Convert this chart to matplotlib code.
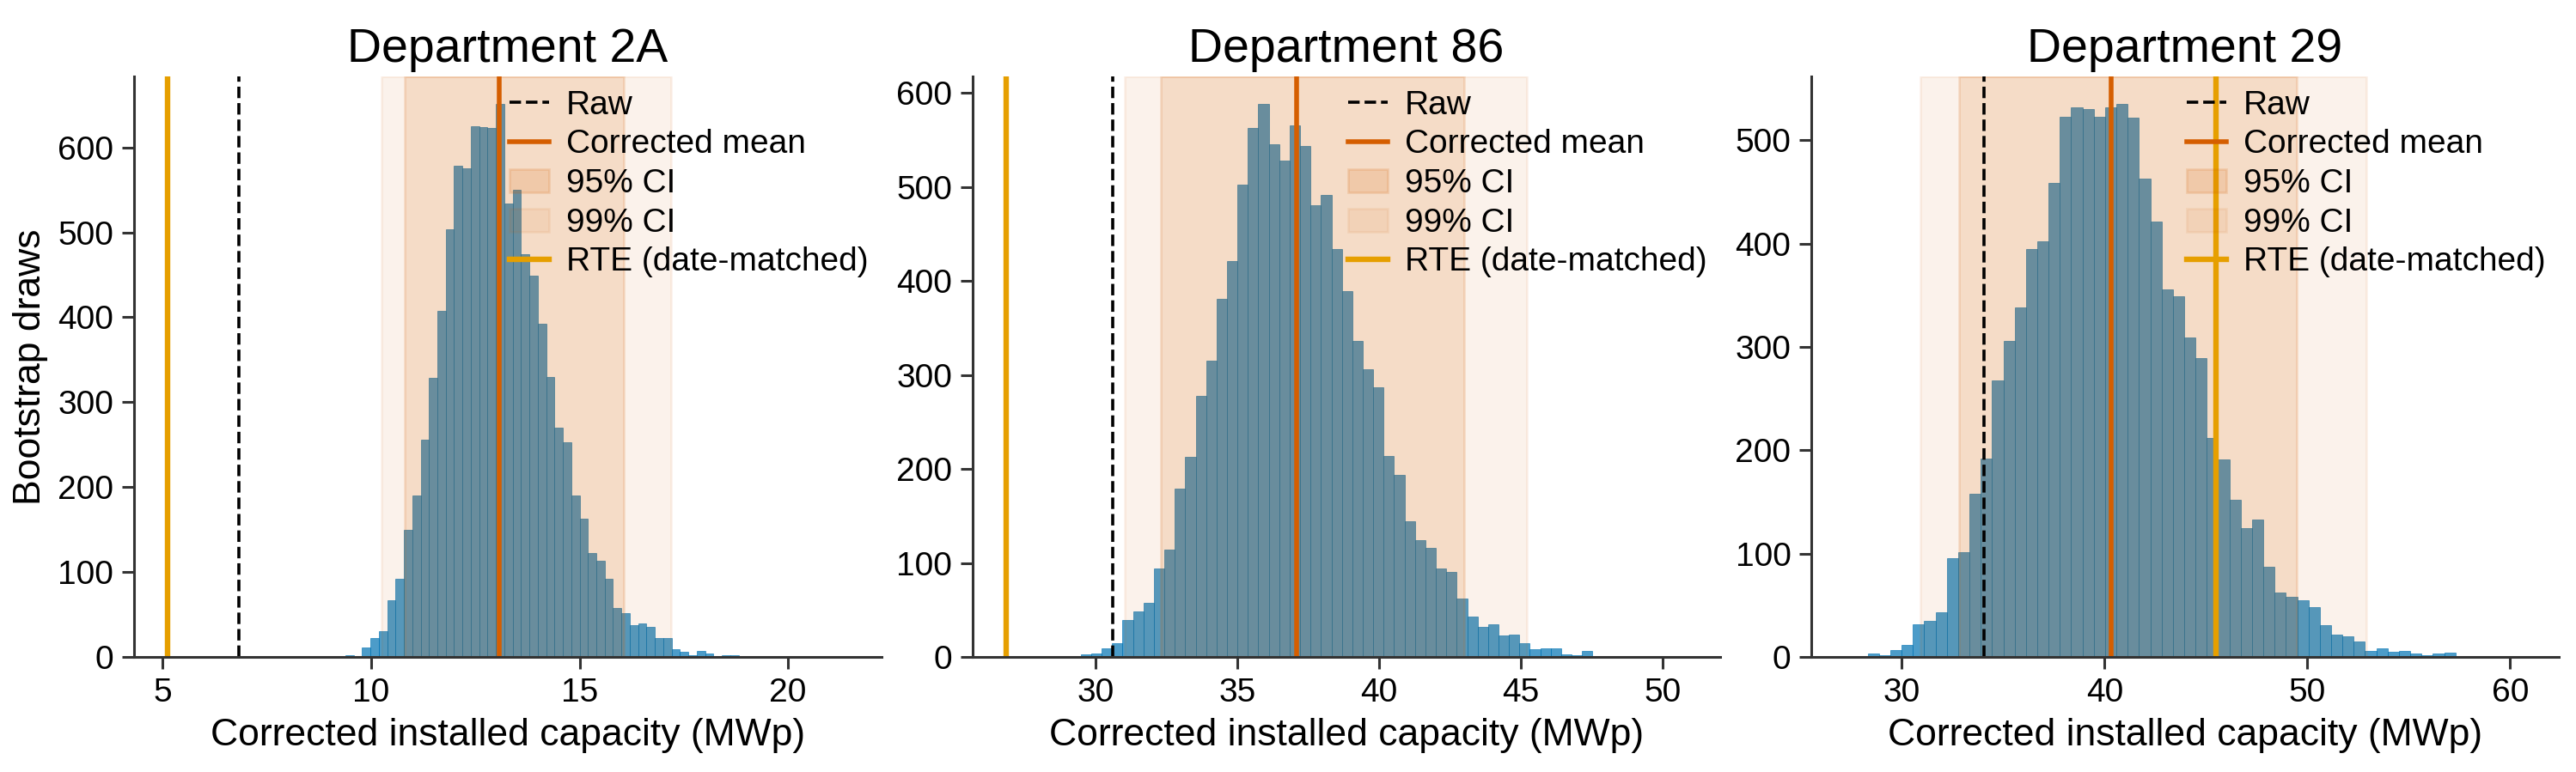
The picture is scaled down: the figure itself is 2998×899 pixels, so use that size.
import numpy as np
import matplotlib
matplotlib.use('Agg')
import matplotlib.pyplot as plt

plt.rcParams['font.family'] = ['Liberation Sans', 'DejaVu Sans']

# departments shown, left to right
departments = ['2A', '86', '29']

# bootstrap histogram counts and histogram range
counts_2a = [2, 0, 11, 22, 30, 67, 92, 150, 190, 256, 329, 408, 504, 578, 575,
             625, 624, 623, 651, 534, 550, 474, 449, 392, 330, 270, 253, 190,
             163, 122, 113, 92, 58, 52, 37, 39, 35, 22, 22, 9, 6, 2, 7, 4, 0,
             2, 2, 0, 1, 0, 0, 0, 0, 0, 0, 0, 0, 1]
range_2a = (9.38, 21.02)

counts_86 = [1, 3, 4, 9, 15, 39, 48, 58, 94, 114, 179, 213, 278, 315, 381, 421,
             502, 563, 588, 545, 528, 565, 543, 480, 491, 434, 389, 336, 306,
             287, 214, 194, 144, 124, 116, 94, 90, 62, 43, 32, 35, 23, 24, 15,
             8, 9, 9, 3, 2, 6, 0, 1, 0, 1]
range_86 = (29.10, 49.00)

counts_29 = [1, 0, 3, 2, 7, 12, 32, 35, 43, 96, 101, 158, 192, 268, 306, 338,
             395, 402, 459, 523, 532, 530, 523, 532, 535, 522, 463, 421, 356,
             349, 309, 289, 212, 191, 152, 125, 133, 87, 62, 58, 55, 48, 31,
             22, 20, 15, 6, 8, 5, 6, 3, 2, 3, 4, 1, 0, 1, 0, 1, 1]
range_29 = (27.21, 60.65)

# summary values (MWp)
raw_vals = [6.83, 30.59, 34.07]
mean_vals = [13.08, 37.09, 40.34]
rte_vals = [5.11, 26.83, 45.49]
ci95 = [(10.80, 16.07), (32.29, 42.99), (32.83, 49.48)]
ci99 = [(10.25, 17.20), (31.01, 45.22), (30.93, 52.92)]
xlims = [(4.31, 22.24), (25.65, 52.03), (25.54, 62.40)]

all_counts = [counts_2a, counts_86, counts_29]
all_ranges = [range_2a, range_86, range_29]

BAR = '#0072B2'
VERM = '#D55E00'
ORANGE = '#E69F00'

fig, axes = plt.subplots(1, 3, figsize=(14.99, 4.495), dpi=200)
fig.subplots_adjust(left=0.052, right=0.9933, bottom=0.149, top=0.901, wspace=0.122)

for i, ax in enumerate(axes):
    cnt = np.array(all_counts[i])
    lo, hi = all_ranges[i]
    edges = np.linspace(lo, hi, len(cnt) + 1)

    ax.bar(edges[:-1], cnt, width=np.diff(edges), align='edge',
           color=BAR, alpha=0.7, edgecolor=BAR, linewidth=0.3)

    ax.axvline(raw_vals[i], color='black', linestyle='--', linewidth=1.3, label='Raw')
    ax.axvline(mean_vals[i], color=VERM, linewidth=2, label='Corrected mean')
    ax.axvspan(*ci95[i], color=VERM, alpha=0.15, label='95% CI')
    ax.axvspan(*ci99[i], color=VERM, alpha=0.08, label='99% CI')
    ax.axvline(rte_vals[i], color=ORANGE, linewidth=2.3, label='RTE (date-matched)')

    ax.set_xlim(*xlims[i])
    ax.set_title(f'Department {departments[i]}', fontsize=20)
    ax.set_xlabel('Corrected installed capacity (MWp)', fontsize=16)
    if i == 0:
        ax.set_ylabel('Bootstrap draws', fontsize=16)

    ax.tick_params(labelsize=14, length=5, width=1.1, color='#333333')
    for s in ['top', 'right']:
        ax.spines[s].set_visible(False)
    for s in ['left', 'bottom']:
        ax.spines[s].set_color('#333333')
        ax.spines[s].set_linewidth(1.1)

    ax.legend(loc='upper right', frameon=False, fontsize=14,
              handlelength=1.2, handletextpad=0.5, labelspacing=0.25,
              borderaxespad=0.1, borderpad=0.3)

fig.savefig('out.png', dpi=200)
